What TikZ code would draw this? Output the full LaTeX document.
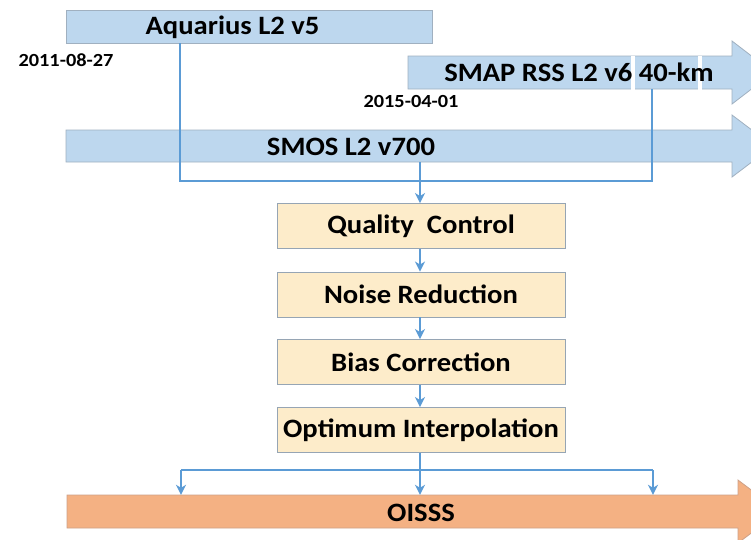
\documentclass[tikz,border=0pt]{standalone}
\usepackage{fontspec}
\setmainfont{Carlito}
\usetikzlibrary{arrows.meta}
\definecolor{barblue}{RGB}{189,215,238}
\definecolor{baredge}{RGB}{160,176,192}
\definecolor{procfill}{RGB}{253,236,202}
\definecolor{procedge}{RGB}{150,165,180}
\definecolor{outfill}{RGB}{244,177,131}
\definecolor{outedge}{RGB}{205,160,135}
\definecolor{linkblue}{RGB}{91,155,213}
\newcommand{\widetext}[1]{\scalebox{1.08}[1]{#1}}
\newcommand{\widedate}[1]{\scalebox{1.1}[1]{#1}}
\tikzset{
  barshape/.style={fill=barblue, draw=baredge, line width=0.8pt},
  outshape/.style={fill=outfill, draw=outedge, line width=0.8pt},
  procbox/.style={fill=procfill, draw=procedge, line width=0.9pt, minimum width=288pt, minimum height=45pt, inner sep=0pt, font=\fontsize{26.5}{30}\selectfont\bfseries},
  lbl/.style={inner sep=0pt, font=\fontsize{26.5}{30}\selectfont\bfseries},
  datelbl/.style={inner sep=0pt, font=\fontsize{18.5}{21}\selectfont\bfseries},
  holder/.style={inner sep=0pt, draw=none},
  link/.style={draw=linkblue, line width=2.2pt},
  linkarrow/.style={link, -{Stealth[length=10pt,width=10pt,inset=3pt]}},
}
\begin{document}
\begin{tikzpicture}[x=1pt,y=-1pt]
\useasboundingbox (0,0) rectangle (751,539);
\clip (0,0) rectangle (751,539);
% Aquarius bar
\node[barshape, inner sep=0pt, minimum width=366pt, minimum height=33pt] (aq) at (249,26.5) {};
\node[lbl] (aqt) at (232.5,27) {\widetext{Aquarius L2 v5}};
\node[datelbl] (d1) at (66,60) {\widedate{2011-08-27}};
% SMAP arrow
\node[holder, minimum width=324pt, minimum height=33pt] (smap) at (570,72.5) {};
\path[barshape] (408,56) -- (732,56) -- (732,41) -- (773,72.5) -- (732,104) -- (732,89) -- (408,89) -- cycle;
\fill[white] (630.5,55.5) rectangle (634.5,89.5);
\fill[white] (698,55.5) rectangle (701.5,89.5);
\node[lbl] (smapt) at (579,72.5) {\widetext{SMAP RSS L2 v6 40-km}};
\node[datelbl] (d2) at (411,101) {\widedate{2015-04-01}};
% SMOS arrow
\node[holder, minimum width=666pt, minimum height=32pt] (smos) at (399,146) {};
\path[barshape] (66,130) -- (732,130) -- (732,115) -- (773,146) -- (732,177) -- (732,162) -- (66,162) -- cycle;
\node[lbl] (smost) at (351,147) {\widetext{SMOS L2 v700}};
% OISSS arrow
\node[holder, minimum width=671pt, minimum height=33pt] (oi) at (402.5,511.5) {};
\path[outshape] (67,495) -- (738,495) -- (738,480) -- (780,511.5) -- (738,543) -- (738,528) -- (67,528) -- cycle;
\node[lbl] (oit) at (421,513) {\widetext{OISSS}};
% process boxes
\node[procbox] (qc) at (421,226) {\widetext{Quality\ \ Control}};
\node[procbox] (nr) at (421,294.5) {\widetext{Noise Reduction}};
\node[procbox] (bc) at (421,362) {\widetext{Bias Correction}};
\node[procbox] (opt) at (421,430) {\widetext{Optimum Interpolation}};
% connectors at top
\coordinate (j1) at (180,181);
\coordinate (j2) at (652,181);
\coordinate (jm) at (420,181);
\draw[link] (aq.south -| j1) -- (j1) -- (j2) -- (smap.south -| j2);
\draw[linkarrow] (smos.south -| jm) -- (qc.north -| jm);
\draw[linkarrow] (qc.south -| jm) -- (nr.north -| jm);
\draw[linkarrow] (nr.south -| jm) -- (bc.north -| jm);
\draw[linkarrow] (bc.south -| jm) -- (opt.north -| jm);
% bottom fan-out
\coordinate (b1) at (181,470);
\coordinate (b2) at (420,470);
\coordinate (b3) at (653,470);
\draw[link] (opt.south -| b2) -- (b2);
\draw[link] (b1) -- (b3);
\draw[linkarrow] (b1) -- (oi.north -| b1);
\draw[linkarrow] (b2) -- (oi.north -| b2);
\draw[linkarrow] (b3) -- (oi.north -| b3);
\end{tikzpicture}
\end{document}
